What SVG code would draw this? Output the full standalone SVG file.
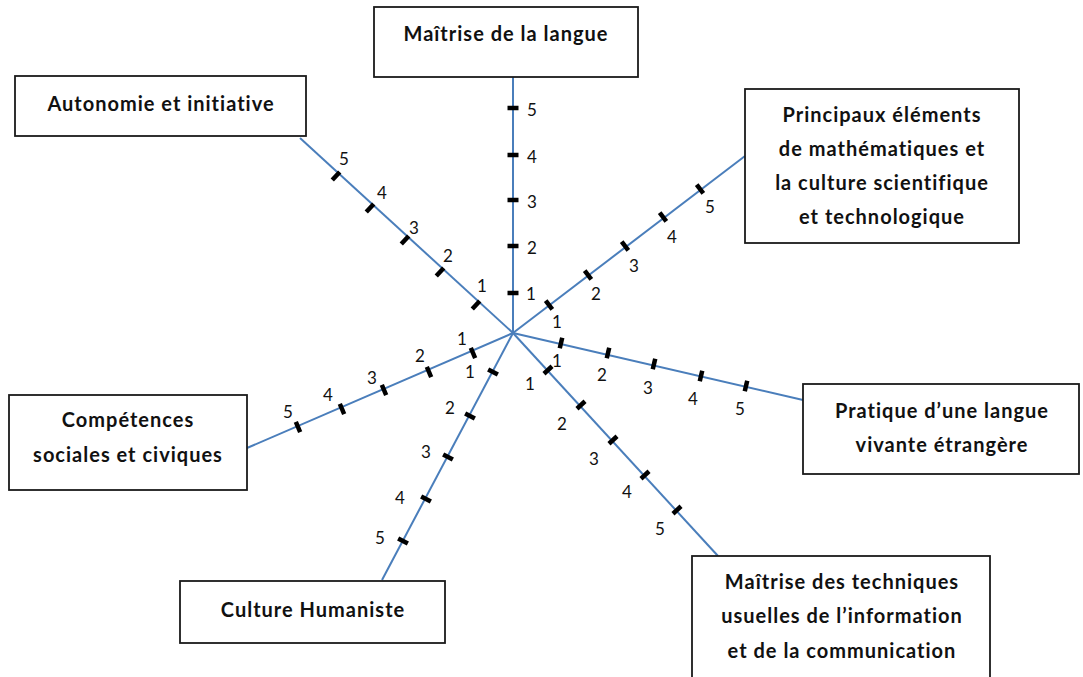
<svg xmlns="http://www.w3.org/2000/svg" xmlns:xlink="http://www.w3.org/1999/xlink" width="1083" height="677" viewBox="0 0 1083 677">
<style>
.box{fill:#fff;stroke:#1a1a1a;stroke-width:1.8}
.lbl{font-family:Lato,"Liberation Sans",sans-serif;font-weight:bold;font-size:20px;letter-spacing:1px;fill:#111;text-anchor:middle}
.ax{stroke:#4a7ebb;stroke-width:2;fill:none}
.num{font-family:Lato,"Liberation Sans",sans-serif;font-size:17px;fill:#111;text-anchor:middle;dominant-baseline:central}
.tk{stroke:#000;stroke-width:4.5}
</style>
<defs>
<line id="tk" class="tk" x1="-5.5" y1="0" x2="5.5" y2="0"/>
</defs>
<rect width="1083" height="677" fill="#fff"/>
<g id="connectors">
<line class="ax" x1="513" y1="333" x2="513" y2="77"/>
<line class="ax" x1="513" y1="333" x2="300" y2="138"/>
<line class="ax" x1="513" y1="333" x2="745" y2="156"/>
<line class="ax" x1="513" y1="333" x2="247" y2="448"/>
<line class="ax" x1="513" y1="333" x2="382" y2="580"/>
<line class="ax" x1="513" y1="333" x2="803" y2="400"/>
<line class="ax" x1="513" y1="333" x2="718" y2="556"/>
</g>
<g id="ticks">
<use xlink:href="#tk" transform="translate(513,108)"/>
<use xlink:href="#tk" transform="translate(513,155)"/>
<use xlink:href="#tk" transform="translate(513,200)"/>
<use xlink:href="#tk" transform="translate(513,246)"/>
<use xlink:href="#tk" transform="translate(513,293)"/>
<use xlink:href="#tk" transform="translate(476,305) rotate(-47.5)"/>
<use xlink:href="#tk" transform="translate(440,272) rotate(-47.5)"/>
<use xlink:href="#tk" transform="translate(405,240) rotate(-47.5)"/>
<use xlink:href="#tk" transform="translate(370,208) rotate(-47.5)"/>
<use xlink:href="#tk" transform="translate(336,176) rotate(-47.5)"/>
<use xlink:href="#tk" transform="translate(549,305) rotate(52.7)"/>
<use xlink:href="#tk" transform="translate(588,275) rotate(52.7)"/>
<use xlink:href="#tk" transform="translate(625,246) rotate(52.7)"/>
<use xlink:href="#tk" transform="translate(663,217) rotate(52.7)"/>
<use xlink:href="#tk" transform="translate(700,189) rotate(52.7)"/>
<use xlink:href="#tk" transform="translate(473,353) rotate(66.6)"/>
<use xlink:href="#tk" transform="translate(429,372) rotate(66.6)"/>
<use xlink:href="#tk" transform="translate(384,390) rotate(66.6)"/>
<use xlink:href="#tk" transform="translate(342,409) rotate(66.6)"/>
<use xlink:href="#tk" transform="translate(298,427) rotate(66.6)"/>
<use xlink:href="#tk" transform="translate(493,372) rotate(27.9)"/>
<use xlink:href="#tk" transform="translate(470,416) rotate(27.9)"/>
<use xlink:href="#tk" transform="translate(448,457) rotate(27.9)"/>
<use xlink:href="#tk" transform="translate(426,499) rotate(27.9)"/>
<use xlink:href="#tk" transform="translate(403,541) rotate(27.9)"/>
<use xlink:href="#tk" transform="translate(561,343) rotate(103)"/>
<use xlink:href="#tk" transform="translate(608,353) rotate(103)"/>
<use xlink:href="#tk" transform="translate(654,364) rotate(103)"/>
<use xlink:href="#tk" transform="translate(701,376) rotate(103)"/>
<use xlink:href="#tk" transform="translate(746,386) rotate(103)"/>
<use xlink:href="#tk" transform="translate(548,370) rotate(137.4)"/>
<use xlink:href="#tk" transform="translate(581,405) rotate(137.4)"/>
<use xlink:href="#tk" transform="translate(613,440) rotate(137.4)"/>
<use xlink:href="#tk" transform="translate(645,475) rotate(137.4)"/>
<use xlink:href="#tk" transform="translate(677,510) rotate(137.4)"/>
</g>
<g id="scale-labels">
<text class="num" x="532" y="109">5</text>
<text class="num" x="532" y="156">4</text>
<text class="num" x="532" y="201">3</text>
<text class="num" x="532" y="247">2</text>
<text class="num" x="531" y="293">1</text>
<text class="num" x="482" y="285">1</text>
<text class="num" x="448" y="255">2</text>
<text class="num" x="414" y="227">3</text>
<text class="num" x="382" y="192">4</text>
<text class="num" x="344" y="158">5</text>
<text class="num" x="557" y="321">1</text>
<text class="num" x="596" y="293">2</text>
<text class="num" x="634" y="265">3</text>
<text class="num" x="672" y="236">4</text>
<text class="num" x="710" y="206">5</text>
<text class="num" x="462" y="338">1</text>
<text class="num" x="420" y="355">2</text>
<text class="num" x="372" y="377">3</text>
<text class="num" x="328" y="394">4</text>
<text class="num" x="288" y="411">5</text>
<text class="num" x="470" y="371">1</text>
<text class="num" x="450" y="407">2</text>
<text class="num" x="426" y="451">3</text>
<text class="num" x="400" y="497">4</text>
<text class="num" x="380" y="537">5</text>
<text class="num" x="557" y="360">1</text>
<text class="num" x="602" y="374">2</text>
<text class="num" x="648" y="387">3</text>
<text class="num" x="693" y="398">4</text>
<text class="num" x="740" y="408">5</text>
<text class="num" x="530" y="383">1</text>
<text class="num" x="562" y="423">2</text>
<text class="num" x="594" y="458">3</text>
<text class="num" x="627" y="491">4</text>
<text class="num" x="660" y="528">5</text>
</g>
<g id="n-langue">
<rect class="box" x="374" y="7" width="264" height="70"/>
<text class="lbl" x="506" y="41">Maîtrise de la langue</text>
</g>
<g id="n-autonomie">
<rect class="box" x="15" y="76" width="291" height="60"/>
<text class="lbl" x="161" y="111">Autonomie  et initiative</text>
</g>
<g id="n-maths">
<rect class="box" x="745" y="89" width="274" height="154"/>
<text class="lbl" x="882" y="122">Principaux éléments</text>
<text class="lbl" x="882" y="156">de mathématiques et</text>
<text class="lbl" x="882" y="190">la culture scientifique</text>
<text class="lbl" x="882" y="224">et technologique</text>
</g>
<g id="n-competences">
<rect class="box" x="9" y="395" width="238" height="95"/>
<text class="lbl" x="128" y="427">Compétences</text>
<text class="lbl" x="128" y="462">sociales et civiques</text>
</g>
<g id="n-pratique">
<rect class="box" x="803" y="384" width="276" height="90"/>
<text class="lbl" x="942" y="418">Pratique d’une  langue</text>
<text class="lbl" x="942" y="452">vivante étrangère</text>
</g>
<g id="n-culture">
<rect class="box" x="180" y="581" width="265" height="62"/>
<text class="lbl" x="313" y="617">Culture  Humaniste</text>
</g>
<g id="n-techniques">
<rect class="box" x="692" y="556" width="298" height="130"/>
<text class="lbl" x="842" y="589">Maîtrise des techniques</text>
<text class="lbl" x="842" y="623">usuelles de l’information</text>
<text class="lbl" x="842" y="658">et de la communication</text>
</g>
</svg>
